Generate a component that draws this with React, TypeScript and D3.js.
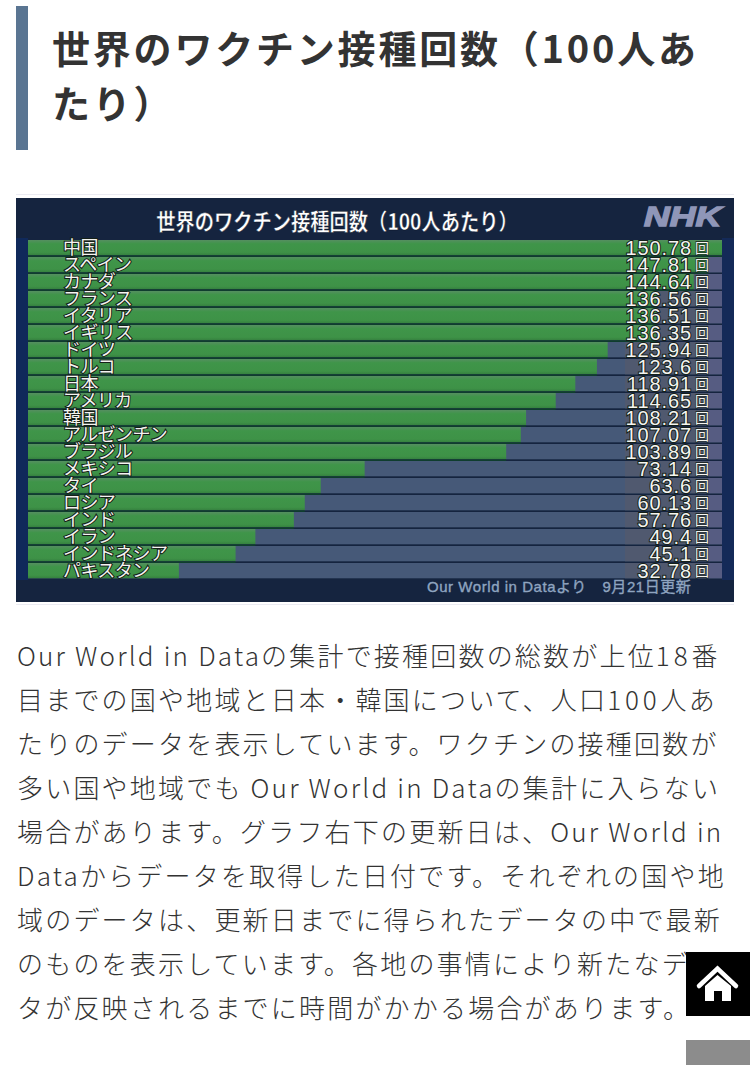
import React from "react";
import * as d3 from "d3";

const categories = ["中国","スペイン","カナダ","フランス","イタリア","イギリス","ドイツ","トルコ","日本","アメリカ","韓国","アルゼンチン","ブラジル","メキシコ","タイ","ロシア","インド","イラン","インドネシア","パキスタン"];
const valueLabels = ["150.78","147.81","144.64","136.56","136.51","136.35","125.94","123.6","118.91","114.65","108.21","107.07","103.89","73.14","63.6","60.13","57.76","49.4","45.1","32.78"];
const values = valueLabels.map(Number);
const headingLines = ["世界のワクチン接種回数（100人あ","たり）"];
const bodyLines = [
  "Our World in Dataの集計で接種回数の総数が上位18番",
  "目までの国や地域と日本・韓国について、人口100人あ",
  "たりのデータを表示しています。ワクチンの接種回数が",
  "多い国や地域でも Our World in Dataの集計に入らない",
  "場合があります。グラフ右下の更新日は、Our World in",
  "Dataからデータを取得した日付です。それぞれの国や地",
  "域のデータは、更新日までに得られたデータの中で最新",
  "のものを表示しています。各地の事情により新たなデー",
  "タが反映されるまでに時間がかかる場合があります。",
];
const chartTitle = "世界のワクチン接種回数（100人あたり）";
const sourceNote = "Our World in Dataより　9月21日更新";

const JP = "'Noto Sans CJK JP','Noto Sans',sans-serif";

export default function App() {
  const x = d3.scaleLinear().domain([0, 150.78]).range([28, 722]);
  const y = d3.scaleBand<string>().domain(categories).range([240, 578.3]).paddingInner(0.1).paddingOuter(0);
  const bh = y.bandwidth();
  const gap = y.step() - bh;
  return (
    <svg width={750} height={1065} style={{ position: "absolute", left: 0, top: 0, background: "#fff" }}>
      <defs>
        <linearGradient id="g" x1="0" x2="0" y1="0" y2="1">
          <stop offset="0" stopColor="#558f60" />
          <stop offset="0.25" stopColor="#3f9549" />
          <stop offset="0.8" stopColor="#3e9247" />
          <stop offset="1" stopColor="#35803f" />
        </linearGradient>
      </defs>
      <rect x={16} y={6} width={12} height={144} fill="#5a7592" />
      {headingLines.map((t, i) => (
        <text key={i} x={52} y={63 + i * 55} fontFamily={JP} fontWeight={700} fontSize={38} letterSpacing={2.8} fill="#333">{t}</text>
      ))}

      <rect x={16} y={194} width={718} height={1} fill="#ebebf2" />
      <rect x={16} y={198} width={718} height={404} fill="#15243f" />
      <rect x={16} y={238} width={12} height={342} fill="#10295a" />
      <rect x={722} y={238} width={12} height={342} fill="#142a58" />
      <rect x={16} y={604} width={718} height={1} fill="#ebebf2" />
      <g transform="translate(337,230) scale(0.857,1)">
        <text x={0} y={0} textAnchor="middle" fontFamily={JP} fontWeight={700} fontSize={22.5} fill="#fff" stroke="#0a1226" strokeWidth={0.4}>{chartTitle}</text>
      </g>
      <g transform="translate(644,226) scale(1.32,1)">
        <text x={0} y={0} fontFamily="'Liberation Sans',sans-serif" fontWeight={700} fontStyle="italic" fontSize={27} fill="#8f96b8" stroke="#8f96b8" strokeWidth={1.4}>NHK</text>
      </g>

      {categories.map((c, i) => {
        const top = y(c)!;
        const w = x(values[i]) - 28;
        return (
          <g key={c}>
            <rect x={28} y={top} width={694} height={bh} fill="#465978" />
            <rect x={625} y={top} width={83} height={bh} fill="#50596f" />
            <rect x={708} y={top} width={14} height={bh} fill="#565c82" />
            <rect x={28} y={top} width={w} height={bh} fill="url(#g)" />
            {i < categories.length - 1 && <rect x={28} y={top + bh} width={w} height={gap} fill="#0f3d2e" />}
          </g>
        );
      })}
      {categories.map((c, i) => {
        const top = y(c)!;
        const mid = top + bh / 2;
        return (
          <g key={c} fill="#f4f4f0" stroke="#152018" strokeWidth={2} style={{ paintOrder: "stroke" }}>
            <text x={63} y={mid + 6} fontFamily={JP} fontSize={18} letterSpacing={-0.6}>{c}</text>
            <text x={692} y={mid + 7} textAnchor="end" fontFamily="'Liberation Sans',sans-serif" fontSize={20} letterSpacing={0.9}>{valueLabels[i]}</text>
            <text x={695} y={mid + 5.5} fontFamily={JP} fontSize={14} strokeWidth={1.2}>回</text>
          </g>
        );
      })}
      <text x={427} y={592} fontFamily={"'Liberation Sans'," + JP} fontSize={15} letterSpacing={0.55} stroke="#8fa4c0" strokeWidth={0.35} fill="#8fa4c0">{sourceNote}</text>

      {bodyLines.map((t, i) => (
        <text key={i} x={17} y={666 + i * 44} fontFamily={JP} fontWeight={300} fontSize={26} letterSpacing={2.2} fill="#333">
          {t.split(/(\d+)/).map((part, j) =>
            /^\d+$/.test(part) ? <tspan key={j} letterSpacing={3.9}>{part}</tspan> : <tspan key={j}>{part}</tspan>
          )}
        </text>
      ))}

      <rect x={686} y={952} width={64} height={64} fill="#000" />
      <path d="M699 986 L717.5 968.5 L736 986" fill="none" stroke="#fff" strokeWidth={4.5} strokeLinecap="round" strokeLinejoin="miter" />
      <path d="M705 1001 V986 L717.5 975 L731 986 V1001 H722 V991 H714 V1001 Z" fill="#fff" />
      <rect x={686} y={1040} width={64} height={25} fill="#8c8c8c" />
    </svg>
  );
}
